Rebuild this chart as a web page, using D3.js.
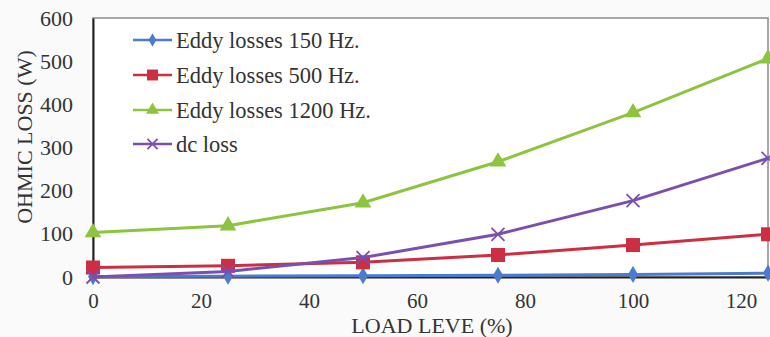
<!DOCTYPE html>
<html>
<head>
<meta charset="utf-8">
<script src="https://cdn.jsdelivr.net/npm/d3@7"></script>
<style>
  body { margin: 0; background: #fafafa; }
  svg { display: block; }
  svg text { font-family: "Liberation Serif", "Times New Roman", serif !important; }
</style>
</head>
<body>
<div id="chart"></div>
<script>
let loadLevels = [0, 25, 50, 75, 100, 125];
let eddy150 = [1, 2, 3, 4, 6, 9];
let eddy500 = [22, 26, 34, 51, 74, 99];
let eddy1200 = [103, 119, 172, 267, 381, 506];
let dcLoss = [0, 13, 45, 99, 177, 275];
let xTicks = [0, 20, 40, 60, 80, 100, 120];
let yTicks = [0, 100, 200, 300, 400, 500, 600];

let series = [
  { name: "Eddy losses 150 Hz.", values: eddy150, color: "#4a7bcf", marker: "diamond" },
  { name: "Eddy losses 500 Hz.", values: eddy500, color: "#cc2e42", marker: "square" },
  { name: "Eddy losses 1200 Hz.", values: eddy1200, color: "#8cc43e", marker: "triangle" },
  { name: "dc loss", values: dcLoss, color: "#7b4fae", marker: "cross" }
];

let width = 770, height = 337;
let margin = { left: 93, right: 2, top: 18, bottom: 60 };

let svg = d3.select("#chart")
  .append("svg")
  .attr("width", width)
  .attr("height", height);

let x = d3.scaleLinear().domain([0, 125]).range([margin.left, width - margin.right]);
let y = d3.scaleLinear().domain([0, 600]).range([height - margin.bottom, margin.top]);

// plot box
svg.append("rect")
  .attr("x", margin.left)
  .attr("y", margin.top)
  .attr("width", x(125) - margin.left)
  .attr("height", y(0) - margin.top)
  .style("fill", "#fff")
  .style("stroke", "#8a8a8a")
  .style("stroke-width", 1.5);

// axes
let yAxis = svg.append("g")
  .attr("transform", "translate(" + margin.left + ",0)")
  .call(d3.axisLeft(y).tickValues(yTicks).tickSize(0).tickPadding(20));
let xAxis = svg.append("g")
  .attr("transform", "translate(0," + y(0) + ")")
  .call(d3.axisBottom(x).tickValues(xTicks).tickSize(0).tickPadding(16));

[yAxis, xAxis].forEach(a => {
  a.select(".domain").style("stroke", "#222").style("stroke-width", 2);
  a.selectAll("text").style("font-size", "22px").style("fill", "#333");
});
xAxis.selectAll("text").style("font-size", "21px");

svg.append("text")
  .attr("transform", "translate(32," + 137 + ") rotate(-90)")
  .attr("text-anchor", "middle")
  .style("font-size", "22px")
  .style("fill", "#333")
  .text("OHMIC LOSS (W)");

svg.append("text")
  .attr("x", 432)
  .attr("y", 333)
  .attr("text-anchor", "middle")
  .style("font-size", "22px")
  .style("fill", "#333")
  .text("LOAD LEVE (%)");

let line = d3.line()
  .x((d, i) => x(loadLevels[i]))
  .y(d => y(d));

function drawMarker(g, type, color, k) {
  if (type === "diamond") {
    g.append("path").attr("d", d3.symbol(d3.symbolDiamond, 85 * k * k)()).style("fill", color);
  } else if (type === "square") {
    g.append("rect").attr("x", -7 * k).attr("y", -7 * k).attr("width", 14 * k).attr("height", 14 * k).style("fill", color);
  } else if (type === "triangle") {
    g.append("path").attr("d", d3.symbol(d3.symbolTriangle, 120 * k * k)()).style("fill", color);
  } else {
    let r = 6.5 * k;
    g.append("path").attr("d", `M${-r},${-r}L${r},${r}M${-r},${r}L${r},${-r}`).style("stroke", color).style("stroke-width", 1.8).style("fill", "none");
  }
}

let plot = svg.append("g");
series.forEach(s => {
  plot.append("path")
    .datum(s.values)
    .attr("d", line)
    .style("fill", "none")
    .style("stroke", s.color)
    .style("stroke-width", 3);
  plot.selectAll(null)
    .data(s.values)
    .enter().append("g")
    .attr("transform", (d, i) => "translate(" + x(loadLevels[i]) + "," + y(d) + ")")
    .each(function() { drawMarker(d3.select(this), s.marker, s.color, 1); });
});

// legend
let legendY = [40, 75, 110, 144];
let legend = svg.append("g");
series.forEach((s, i) => {
  let g = legend.append("g").attr("transform", "translate(0," + legendY[i] + ")");
  g.append("line").attr("x1", 133).attr("x2", 172).attr("y1", 0).attr("y2", 0)
    .style("stroke", s.color).style("stroke-width", 2.5);
  let m = g.append("g").attr("transform", "translate(152.5,0)");
  drawMarker(m, s.marker, s.color, 0.78);
  g.append("text").attr("x", 176).attr("y", 7.5)
    .style("font-size", "22.5px").style("fill", "#333")
    .text(s.name);
});
</script>
</body>
</html>
